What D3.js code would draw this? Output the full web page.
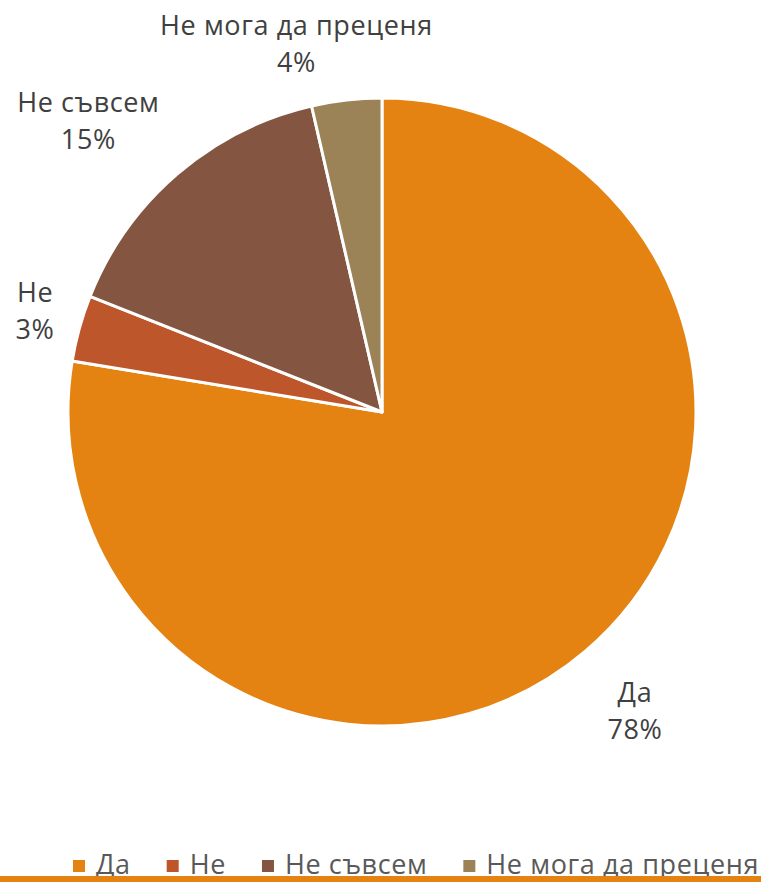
<!DOCTYPE html>
<html><head><meta charset="utf-8">
<script src="https://cdn.jsdelivr.net/npm/d3@7/dist/d3.min.js"></script>
<style>
html,body{margin:0;padding:0;background:#fff;}
svg text{font-family:"Open Sans","Noto Sans",sans-serif;letter-spacing:0.6px;}
</style></head>
<body><svg id="chart" width="761" height="882"></svg>
<script>
// ---- data ----
const categories = ["Да", "Не", "Не съвсем", "Не мога да преценя"];
const values = [77.6, 3.4, 15.4, 3.6];
const colors = ["#E48312", "#BE562C", "#845642", "#9C8257"];

// ---- layout (not data) ----
const W = 761, H = 882;
const cx = 382, cy = 412, R = 314;
const labelR = 360;
const labelNudge = [[20, 24], [0, -5], [-59, -18], [-45, -11]];
const fontSize = 27, lineH = 37;

const svg = d3.select("#chart");
const total = d3.sum(values);
const pct = v => Math.round(v / total * 100) + "%";

const pie = d3.pie().sort(null).value(d => d.v);
const rows = categories.map((c, i) => ({c, v: values[i], col: colors[i], i}));
const arcs = pie(rows);
const arc = d3.arc().innerRadius(0).outerRadius(R);
const labelArc = d3.arc().innerRadius(labelR).outerRadius(labelR);

const g = svg.append("g").attr("transform", `translate(${cx},${cy})`);
g.selectAll("path").data(arcs).join("path")
  .attr("d", arc)
  .attr("fill", d => d.data.col)
  .attr("stroke", "#fff")
  .attr("stroke-width", 3)
  .attr("stroke-linejoin", "round");

const lbl = g.selectAll("text.lbl").data(arcs).join("text")
  .attr("class", "lbl")
  .attr("text-anchor", "middle")
  .attr("font-size", fontSize)
  .attr("fill", "#404040")
  .attr("transform", d => {
    const [x, y] = labelArc.centroid(d);
    const n = labelNudge[d.data.i];
    return `translate(${x + n[0]},${y + n[1]})`;
  });
lbl.append("tspan").attr("x", 0).attr("y", -8.5).text(d => d.data.c);
lbl.append("tspan").attr("x", 0).attr("y", -8.5 + lineH).text(d => pct(d.data.v));

// ---- legend ----
const leg = svg.append("g");
let x = 73;
rows.forEach(r => {
  leg.append("rect").attr("x", x).attr("y", 860).attr("width", 12).attr("height", 12)
    .attr("fill", r.col);
  const t = leg.append("text").attr("x", x + 23).attr("y", 874)
    .attr("font-size", fontSize).attr("fill", "#595959").text(r.c);
  x += 23 + t.node().getComputedTextLength() + 36;
});

// bottom orange rule
svg.append("rect").attr("x", 0).attr("y", 876).attr("width", W).attr("height", 6)
  .attr("fill", colors[0]);
</script></body></html>
